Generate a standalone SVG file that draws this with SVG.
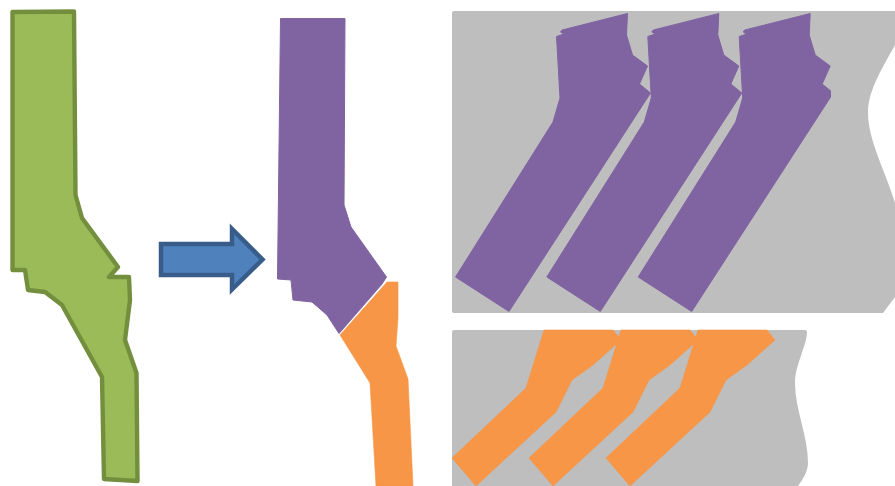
<svg xmlns="http://www.w3.org/2000/svg" width="895" height="486" viewBox="0 0 895 486">
<style>
.g{fill:#bebebe}
.p{fill:#8064a2;stroke:#8064a2;stroke-width:1;stroke-linejoin:round}
.o{fill:#f79646;stroke:#f79646;stroke-width:.6;stroke-linejoin:round}
</style>
<defs>
<clipPath id="cp"><rect x="0" y="0" width="831" height="486"/></clipPath>
<polygon id="pp" points="627.500,13.500 626.500,35 632.500,55 647.500,66 639.500,84 650.500,93 509,311.500 455.500,277 553,122 560,98 556.500,36.500 564,34 560.500,32 562,30"/>
<polygon id="op" points="544,330 613,330 621,340 593,365 572,380 556,412 476,486 452,458 526,388"/>
</defs>
<rect width="895" height="486" fill="#fff"/>
<g id="green-part">
<polygon points="12.500,12 74,11.500 75.500,195 82,218 118,267 109,277 129,277 130,300 125,340 136.500,373 137.500,481 104,479 102,377 62,305 45,292 28,290 25,270 12.500,270" fill="#9bbb59" stroke="#738f3e" stroke-width="4.400" stroke-linejoin="round"/>
</g>
<g id="arrow">
<polygon points="161,244 232,244 232,229 262.500,259.500 232,289.500 232,275 161,275" fill="#4f81bd" stroke="#385d8a" stroke-width="4.500"/>
</g>
<g id="split-part">
<polygon class="o" points="340,335 387,282 398,282 398,318 396,346 408,379 413,486 376,486 370,383"/>
<polygon class="p" points="280.500,18.500 345,18.500 344,205 351,227 386.500,277 382,284 339,333.500 327,315 312,302 293,300 291,280 277.500,279"/>
</g>
<g id="upper-panel">
<path class="g" d="M454,11H895V45C880,72 868,92 868,113C868,140 885,170 895,203V297L883,313H454Q452,313 452,311V13Q452,11 454,11Z"/>
<use href="#pp" class="p"/>
<use href="#pp" class="p" x="91.300"/>
<g clip-path="url(#cp)"><use href="#pp" class="p" x="182.700"/></g>
</g>
<g id="lower-panel">
<path class="g" d="M454,330H805Q807,330 807,332C807,345 795,365 795,383C795,410 808,435 808,463C808,472 802,480 798,486H452V332Q452,330 454,330Z"/>
<use href="#op" class="o"/>
<use href="#op" class="o" x="77"/>
<use href="#op" class="o" x="154"/>
</g>
</svg>
